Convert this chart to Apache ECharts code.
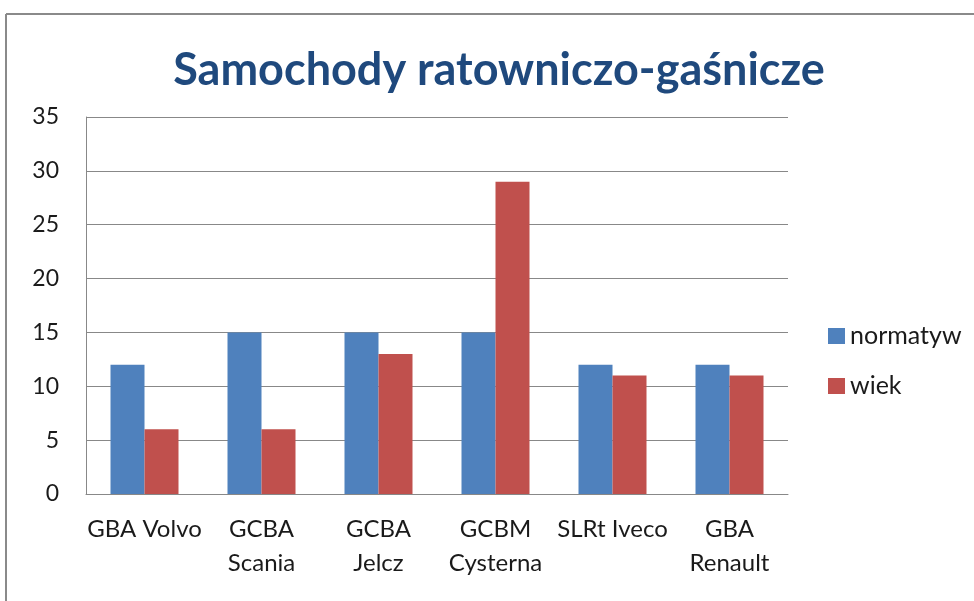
<!DOCTYPE html>
<html>
<head>
<meta charset="utf-8">
<script src="https://cdn.jsdelivr.net/npm/echarts@6/dist/echarts.min.js"></script>
<style>
html,body{margin:0;padding:0;background:#fff;}
#chart{width:974px;height:601px;}
</style>
</head>
<body>
<div id="chart"></div>
<script>
const titleText = 'Samochody ratowniczo-gaśnicze';
const categories = ['GBA Volvo', 'GCBA Scania', 'GCBA Jelcz', 'GCBM Cysterna', 'SLRt Iveco', 'GBA Renault'];
const twoLineLabels = ['GCBA Scania', 'GCBA Jelcz', 'GCBM Cysterna', 'GBA Renault'];
const seriesNames = ['normatyw', 'wiek'];
const normatyw = [12, 15, 15, 15, 12, 12];
const wiek = [6, 6, 13, 29, 11, 11];
const yTicks = [0, 5, 10, 15, 20, 25, 30, 35];

const FONT = 'Lato';
const chart = echarts.init(document.getElementById('chart'), null, {renderer: 'canvas'});
chart.setOption({
  animation: false,
  backgroundColor: '#ffffff',
  title: {
    text: titleText,
    left: 494, top: 43, textAlign: 'center',
    textStyle: {fontFamily: FONT, fontWeight: 'bold', fontSize: 45, color: '#1F497D'}
  },
  graphic: [
    {type: 'line', shape: {x1: 6, y1: 14, x2: 974, y2: 14}, style: {stroke: '#8a8a8a', lineWidth: 2}},
    {type: 'line', shape: {x1: 6, y1: 14, x2: 6, y2: 601}, style: {stroke: '#8a8a8a', lineWidth: 2}}
  ],
  legend: {
    orient: 'vertical',
    left: 823, top: 317,
    itemWidth: 17, itemHeight: 16,
    itemGap: 22, itemTextGap: 7,
    icon: 'rect',
    textStyle: {fontFamily: FONT, fontSize: 25, color: '#1a1a1a', lineHeight: 28},
    data: seriesNames
  },
  grid: {left: 86, right: 186, top: 117, bottom: 107, containLabel: false},
  xAxis: {
    type: 'category',
    data: categories,
    axisLine: {lineStyle: {color: '#888888', width: 1}},
    axisTick: {show: false},
    axisLabel: {
      fontFamily: FONT, fontSize: 24, color: '#1a1a1a', margin: 18, lineHeight: 34,
      interval: 0,
      formatter: v => twoLineLabels.includes(v) ? v.replace(' ', '\n') : v
    }
  },
  yAxis: {
    type: 'value',
    min: yTicks[0], max: yTicks[yTicks.length - 1], interval: yTicks[1] - yTicks[0],
    axisLine: {show: true, lineStyle: {color: '#888888', width: 1}},
    axisTick: {show: false},
    splitLine: {lineStyle: {color: '#888888', width: 1}},
    axisLabel: {fontFamily: FONT, fontSize: 23, color: '#1a1a1a', margin: 27}
  },
  series: [
    {name: seriesNames[0], type: 'bar', data: normatyw, barWidth: 34, barGap: '0%',
     itemStyle: {color: '#4F81BD'}},
    {name: seriesNames[1], type: 'bar', data: wiek, barWidth: 34, barGap: '0%',
     itemStyle: {color: '#C0504D'}}
  ]
});
</script>
</body>
</html>
